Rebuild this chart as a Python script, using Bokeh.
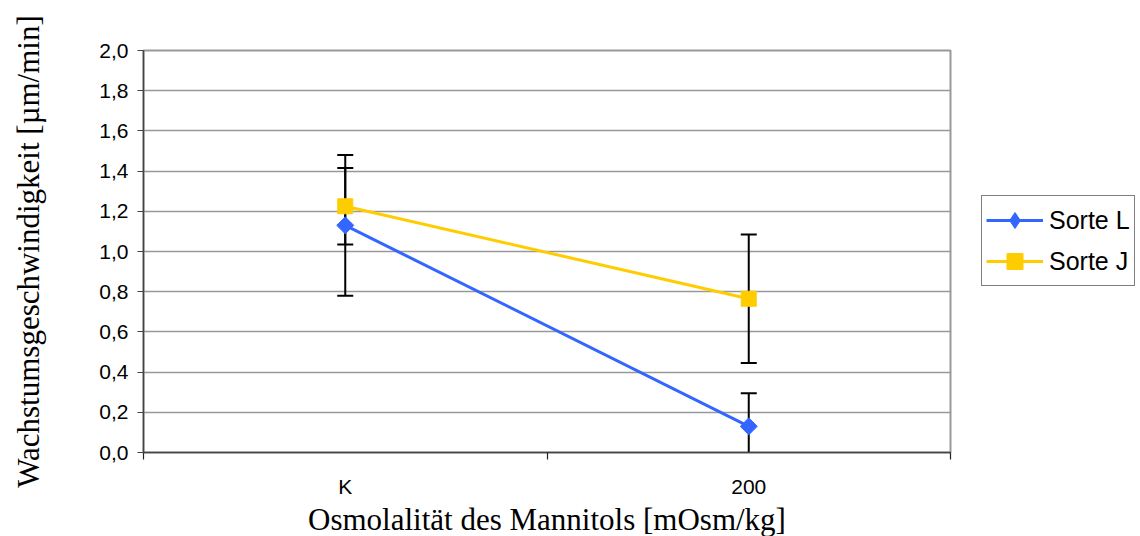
import math
from bokeh.plotting import figure
from bokeh.models import ColumnDataSource, Whisker, FixedTicker, Legend, LegendItem, Range1d
from bokeh.embed import file_html
from bokeh.resources import INLINE

categories = ["K", "200"]
sorte_l = [1.13, 0.13]
sorte_l_err = [0.35, 0.165]
sorte_j = [1.225, 0.765]
sorte_j_err = [0.19, 0.32]
y_ticks = [0.0, 0.2, 0.4, 0.6, 0.8, 1.0, 1.2, 1.4, 1.6, 1.8, 2.0]
y_tick_labels = ["0,0", "0,2", "0,4", "0,6", "0,8", "1,0", "1,2", "1,4", "1,6", "1,8", "2,0"]

xpos = [i + 0.5 for i in range(len(categories))]

p = figure(width=1132, height=528, frame_width=807, frame_height=402,
           output_backend="svg", toolbar_location=None,
           x_range=Range1d(0, len(categories)), y_range=Range1d(0, 2.0),
           min_border_left=143, min_border_top=50, min_border_right=182, min_border_bottom=76)
p.outline_line_color = "#999999"
p.outline_line_width = 2
p.background_fill_color = "white"
p.border_fill_color = "white"

# grid
p.xgrid.grid_line_color = None
p.ygrid.grid_line_color = "#999999"
p.ygrid.grid_line_width = 1.5

# y axis
p.yaxis.ticker = FixedTicker(ticks=y_ticks)
p.yaxis.major_label_overrides = {t: l for t, l in zip(y_ticks, y_tick_labels)}
p.yaxis.minor_tick_line_color = None
p.yaxis.major_tick_in = 0
p.yaxis.major_tick_out = 6
p.yaxis.axis_line_color = "#444444"
p.yaxis.axis_line_width = 1.5
p.yaxis.major_tick_line_color = "#444444"
p.yaxis.major_tick_line_width = 1.2
p.yaxis.major_label_text_font = "Liberation Sans"
p.yaxis.major_label_text_font_size = "21px"
p.yaxis.major_label_text_color = "black"
p.yaxis.major_label_standoff = 9
p.yaxis.axis_label = "Wachstumsgeschwindigkeit [µm/min]"
p.yaxis.axis_label_text_font = "Liberation Serif"
p.yaxis.axis_label_text_font_style = "normal"
p.yaxis.axis_label_text_font_size = "31px"
p.yaxis.axis_label_text_color = "black"
p.yaxis.axis_label_standoff = 50

# x axis
p.xaxis.ticker = FixedTicker(ticks=xpos, minor_ticks=list(range(len(categories) + 1)))
p.xaxis.major_label_overrides = {x: c for x, c in zip(xpos, categories)}
p.xaxis.major_tick_line_color = None
p.xaxis.minor_tick_in = 0
p.xaxis.minor_tick_out = 7
p.xaxis.minor_tick_line_color = "#222222"
p.xaxis.minor_tick_line_width = 1.2
p.xaxis.axis_line_color = "#444444"
p.xaxis.axis_line_width = 1.5
p.xaxis.major_label_text_font = "Liberation Sans"
p.xaxis.major_label_text_font_size = "21px"
p.xaxis.major_label_text_color = "black"
p.xaxis.major_label_standoff = 15
p.xaxis.axis_label = "Osmolalität des Mannitols [mOsm/kg]"
p.xaxis.axis_label_text_font = "Liberation Serif"
p.xaxis.axis_label_text_font_style = "normal"
p.xaxis.axis_label_text_font_size = "31px"
p.xaxis.axis_label_text_color = "black"
p.xaxis.axis_label_standoff = 1

blue = "#3366FF"
yellow = "#FFCC00"

src = ColumnDataSource(dict(
    x=xpos, l=sorte_l, j=sorte_j,
    l_lo=[v - e for v, e in zip(sorte_l, sorte_l_err)],
    l_hi=[v + e for v, e in zip(sorte_l, sorte_l_err)],
    j_lo=[v - e for v, e in zip(sorte_j, sorte_j_err)],
    j_hi=[v + e for v, e in zip(sorte_j, sorte_j_err)],
))

for lo, hi in (("l_lo", "l_hi"), ("j_lo", "j_hi")):
    w = Whisker(source=src, base="x", lower=lo, upper=hi, dimension="height",
                line_color="black", line_width=2)
    w.upper_head.size = 16
    w.lower_head.size = 16
    w.upper_head.line_color = "black"
    w.lower_head.line_color = "black"
    w.upper_head.line_width = 2
    w.lower_head.line_width = 2
    p.add_layout(w)

ll = p.line("x", "l", source=src, line_color=blue, line_width=3)
# diamond (used by the legend), covered by a rotated square in the plot
lm_leg = p.scatter("x", "l", source=src, marker="diamond", size=16,
                   fill_color=blue, line_color=blue)
lm = p.scatter("x", "l", source=src, marker="square", angle=math.pi / 4, size=12,
               fill_color=blue, line_color=blue)
jl = p.line("x", "j", source=src, line_color=yellow, line_width=3)
jm = p.scatter("x", "j", source=src, marker="square", size=15, fill_color=yellow, line_color=yellow)

legend = Legend(items=[LegendItem(label="Sorte L", renderers=[ll, lm_leg]),
                       LegendItem(label="Sorte J", renderers=[jl, jm])],
                location=(31, 166))
legend.border_line_color = "black"
legend.border_line_width = 1
legend.background_fill_color = "white"
legend.background_fill_alpha = 1
legend.label_text_font = "Liberation Sans"
legend.label_text_font_size = "25px"
legend.label_text_color = "black"
legend.glyph_width = 57
legend.glyph_height = 40
legend.label_height = 40
legend.label_standoff = 6
legend.spacing = 1
legend.padding = 4
legend.margin = 0
p.add_layout(legend, "right")

open("out.html", "w").write(file_html(p, INLINE))
